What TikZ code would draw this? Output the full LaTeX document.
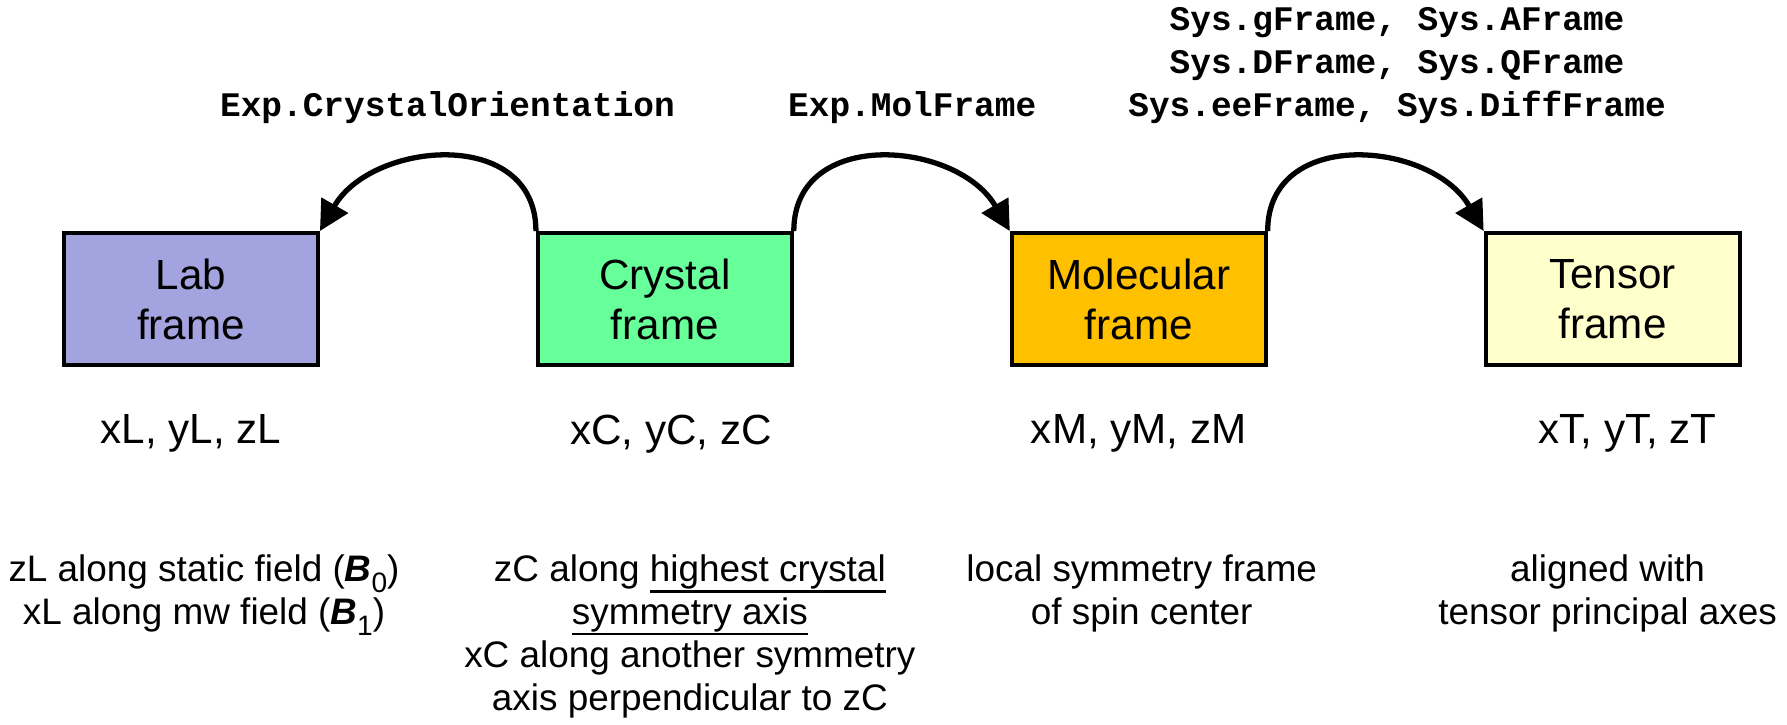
\documentclass[tikz,border=0pt]{standalone}
\usepackage{fontspec}
\setmainfont{Liberation Sans}
\setmonofont{Liberation Mono}
\usetikzlibrary{arrows.meta,positioning}

\definecolor{labblue}{RGB}{163,163,224}
\definecolor{crysgreen}{RGB}{102,255,153}
\definecolor{molorange}{RGB}{255,192,0}
\definecolor{tensyellow}{RGB}{255,255,204}
\newcommand{\Bfield}[1]{\textbf{\textit{B}}\raisebox{-0.55ex}{\footnotesize #1}}
\newcommand{\ulined}[1]{\setbox0\hbox{#1}\rlap{\rule[-3pt]{\wd0}{0.6pt}}\box0}

\begin{document}
\begin{tikzpicture}[
  framebox/.style={draw, line width=1.1pt, minimum width=2.54cm, minimum height=1.32cm,
    inner sep=0pt, align=center, font=\fontsize{12}{14.2}\selectfont},
  axislabel/.style={inner sep=0pt, font=\fontsize{12}{14.2}\selectfont},
  note/.style={inner sep=0pt, align=center, font=\fontsize{10.5}{12.2}\selectfont},
  rot/.style={line width=1.5pt, -{Triangle[length=8.5pt,width=8.5pt]}},
  call/.style={inner sep=0pt, align=center, font=\fontsize{9.8}{12.2}\selectfont\ttfamily\bfseries}
]
\useasboundingbox (0,0) rectangle (17.87,-7.25);

% frames
\node[framebox, fill=labblue] (lab) at (1.91,-2.99) {Lab\\frame};
\node[framebox, fill=crysgreen, right=2.16cm of lab] (crystal) {Crystal\\frame};
\node[framebox, fill=molorange, right=2.16cm of crystal] (mol) {Molecular\\frame};
\node[framebox, fill=tensyellow, right=2.16cm of mol] (tensor) {Tensor\\frame};

% axes of each frame
\node[axislabel, below=0.47cm of lab] (xyzL) {xL, yL, zL};
\node[axislabel, below=0.47cm of crystal, xshift=0.06cm] (xyzC) {xC, yC, zC};
\node[axislabel, below=0.47cm of mol] (xyzM) {xM, yM, zM};
\node[axislabel, below=0.47cm of tensor, xshift=0.15cm] (xyzT) {xT, yT, zT};

% what the axes mean
\node[note, below=1.01cm of xyzL, xshift=0.13cm] (noteL)
  {zL along static field (\Bfield{0})\\xL along mw field (\Bfield{1})};
\node[note, below=1.01cm of xyzC, xshift=0.19cm] (noteC)
  {zC along \ulined{highest crystal}\\\ulined{symmetry axis}\\xC along another symmetry\\axis perpendicular to zC};
\node[note, below=1.01cm of xyzM, xshift=0.03cm] (noteM)
  {local symmetry frame\\of spin center};
\node[note, below=1.01cm of xyzT, xshift=-0.2cm] (noteT)
  {aligned with\\tensor principal axes};

% rotations between frames
\path[rot] (crystal.north west) edge[out=90, in=60, looseness=1.24]
    node[call, above=9pt] {Exp.CrystalOrientation} (lab.north east)
  (crystal.north east) edge[out=90, in=120, looseness=1.24]
    node[call, above=9pt, xshift=0.3cm] {Exp.MolFrame} (mol.north west)
  (mol.north east) edge[out=90, in=120, looseness=1.24]
    node[call, above=9pt, xshift=0.41cm] {Sys.gFrame, Sys.AFrame\\Sys.DFrame, Sys.QFrame\\Sys.eeFrame, Sys.DiffFrame} (tensor.north west);
\end{tikzpicture}
\end{document}
